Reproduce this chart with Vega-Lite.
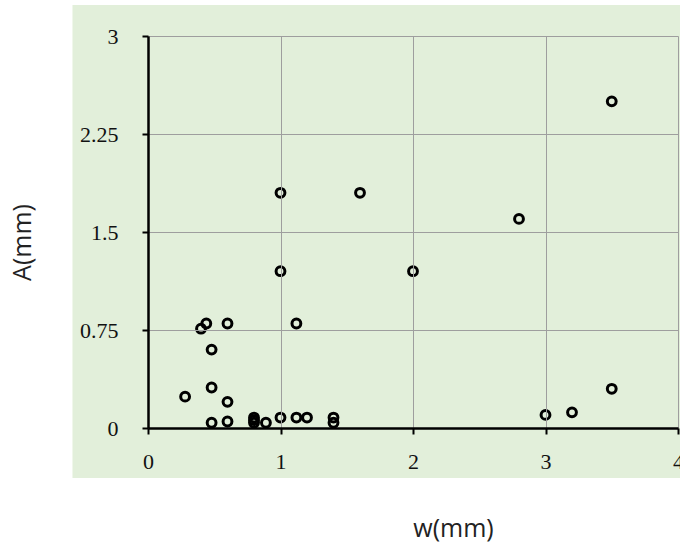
{
  "$schema": "https://vega.github.io/schema/vega-lite/v6.json",
  "width": 530,
  "height": 392,
  "autosize": {"type": "none"},
  "padding": {"left": 148, "top": 36, "right": 2, "bottom": 122},
  "background": "white",
  "config": {"view": {"stroke": null}},
  "encoding": {
    "x": {
      "type": "quantitative",
      "scale": {"domain": [0, 4], "nice": false, "zero": false},
      "axis": {
        "title": "w(mm)",
        "values": [0, 1, 2, 3, 4],
        "format": "d",
        "zindex": 1,
        "grid": true,
        "gridColor": "#9e9e9e",
        "gridWidth": 1,
        "domainColor": "black",
        "domainWidth": 2.5,
        "tickColor": "black",
        "tickWidth": 2,
        "tickSize": 6,
        "labelFont": "Liberation Serif",
        "labelFontSize": 22,
        "labelColor": "#111111",
        "labelPadding": 17,
        "labelFlush": false,
        "titleFont": "Open Sans",
        "titleFontSize": 25,
        "titleFontWeight": "normal",
        "titleColor": "#222222",
        "titleX": 305,
        "titleY": 100,
        "titleBaseline": "middle",
        "titleAlign": "center"
      }
    },
    "y": {
      "type": "quantitative",
      "scale": {"domain": [0, 3], "nice": false, "zero": false},
      "axis": {
        "title": "A(mm)",
        "values": [0, 0.75, 1.5, 2.25, 3],
        "format": ".2~f",
        "zindex": 1,
        "grid": true,
        "gridColor": "#9e9e9e",
        "gridWidth": 1,
        "domainColor": "black",
        "domainWidth": 2.5,
        "tickColor": "black",
        "tickWidth": 2,
        "tickSize": 6,
        "labelFont": "Liberation Serif",
        "labelFontSize": 22,
        "labelColor": "#111111",
        "labelPadding": 24,
        "labelFlush": false,
        "titleFont": "Open Sans",
        "titleFontSize": 25,
        "titleFontWeight": "normal",
        "titleColor": "#222222",
        "titleAngle": 270,
        "titleX": -126,
        "titleY": 206,
        "titleBaseline": "middle",
        "titleAlign": "center"
      }
    }
  },
  "layer": [
    {
      "data": {"values": [{}]},
      "mark": {"type": "rect", "color": "#e2efda"},
      "encoding": {
        "x": {"datum": -0.57, "type": "quantitative"},
        "x2": {"datum": 4.1},
        "y": {"datum": -0.383, "type": "quantitative"},
        "y2": {"datum": 3.237}
      }
    },
    {
      "data": {
        "values": [
          {"w": 0.28, "A": 0.24},
          {"w": 0.40, "A": 0.76},
          {"w": 0.44, "A": 0.80},
          {"w": 0.48, "A": 0.60},
          {"w": 0.48, "A": 0.31},
          {"w": 0.48, "A": 0.04},
          {"w": 0.60, "A": 0.80},
          {"w": 0.60, "A": 0.20},
          {"w": 0.60, "A": 0.05},
          {"w": 0.80, "A": 0.08},
          {"w": 0.80, "A": 0.06},
          {"w": 0.80, "A": 0.04},
          {"w": 0.89, "A": 0.04},
          {"w": 1.00, "A": 0.08},
          {"w": 1.00, "A": 1.20},
          {"w": 1.00, "A": 1.80},
          {"w": 1.12, "A": 0.80},
          {"w": 1.12, "A": 0.08},
          {"w": 1.20, "A": 0.08},
          {"w": 1.40, "A": 0.08},
          {"w": 1.40, "A": 0.04},
          {"w": 1.60, "A": 1.80},
          {"w": 2.00, "A": 1.20},
          {"w": 2.80, "A": 1.60},
          {"w": 3.00, "A": 0.10},
          {"w": 3.20, "A": 0.12},
          {"w": 3.50, "A": 0.30},
          {"w": 3.50, "A": 2.50}
        ]
      },
      "mark": {"type": "point", "shape": "circle", "filled": false, "stroke": "black", "strokeWidth": 3, "size": 78, "opacity": 1},
      "encoding": {
        "x": {"field": "w", "type": "quantitative"},
        "y": {"field": "A", "type": "quantitative"}
      }
    }
  ]
}
